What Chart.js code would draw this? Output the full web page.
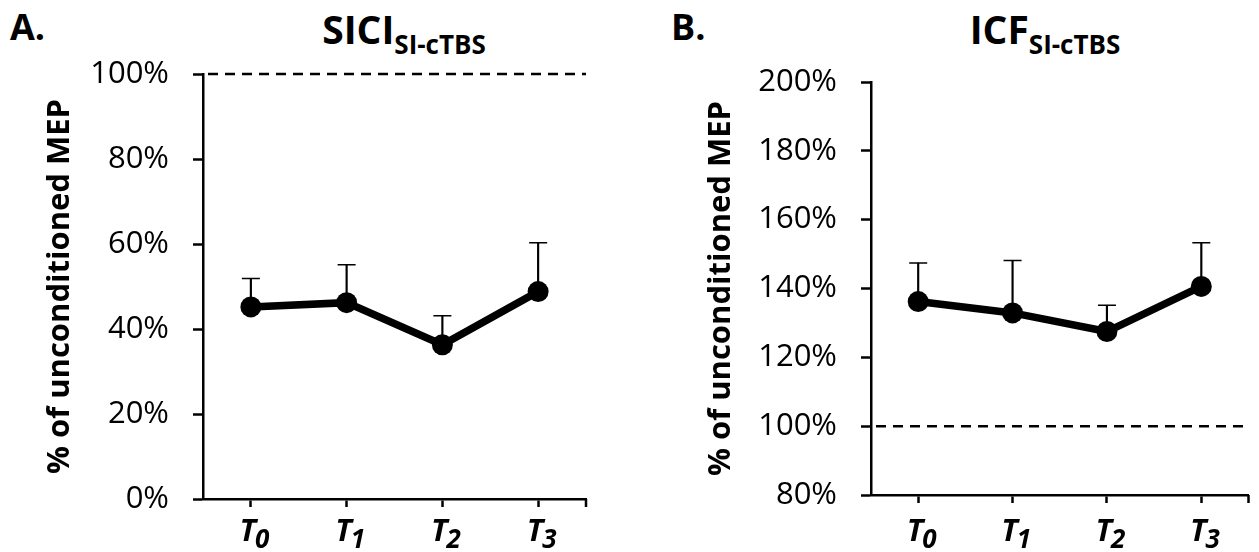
<!DOCTYPE html>
<html>
<head>
<meta charset="utf-8">
<script src="https://cdn.jsdelivr.net/npm/chart.js@4.4.1/dist/chart.umd.min.js"></script>
<style>
  body { margin: 0; background: #fff; width: 1259px; height: 552px; position: relative; overflow: hidden; font-family: "Open Sans", sans-serif; color: #000; }
  canvas { position: absolute; top: 0; }
  #chartA { left: 0; }
  #chartB { left: 629px; }
  .panel { position: absolute; font-weight: bold; font-size: 36px; line-height: 1; }
  .title { position: absolute; font-weight: bold; font-size: 39px; line-height: 1; white-space: nowrap; transform: translateX(-50%); }
  .title sub { font-size: 26px; vertical-align: -10px; line-height: 0; }
</style>
</head>
<body>
<div class="panel" style="left:10px;top:9px">A.</div>
<div class="title" style="left:404px;top:9px">SICI<sub>SI-cTBS</sub></div>
<div class="panel" style="left:671px;top:9px">B.</div>
<div class="title" style="left:1045px;top:9px">ICF<sub>SI-cTBS</sub></div>
<canvas id="chartA" width="629" height="552"></canvas>
<canvas id="chartB" width="630" height="552"></canvas>
<script>
// Données
const timepoints = ['T0', 'T1', 'T2', 'T3'];
const siciMean = [45.2, 46.2, 36.3, 48.8];
const siciErr = [6.7, 8.9, 6.8, 11.5];
const icfMean = [136.2, 132.9, 127.5, 140.6];
const icfErr = [11.2, 15.2, 7.6, 12.7];

const yTitle = '% of unconditioned MEP';

// Ligne de référence pointillée, tick de fin d'axe X et étiquettes T avec indice
const axisDecor = {
    id: 'axisDecor',
    beforeDatasetsDraw(chart, args, opts) {
        const { ctx, chartArea: a, scales: { y } } = chart;
        const yRef = y.getPixelForValue(opts.refValue);
        ctx.save();
        ctx.strokeStyle = '#000';
        ctx.lineWidth = 2.5;
        ctx.setLineDash([10, 7]);
        ctx.beginPath();
        ctx.moveTo(a.left + 5, yRef);
        ctx.lineTo(a.right, yRef);
        ctx.stroke();
        ctx.setLineDash([]);
        ctx.beginPath();
        ctx.moveTo(a.right, a.bottom);
        ctx.lineTo(a.right, a.bottom + 8);
        ctx.stroke();
        ctx.restore();
    },
    afterDraw(chart) {
        const { ctx, scales: { x } } = chart;
        const baseFont = 'italic bold 31px "Open Sans"';
        const subFont = 'italic bold 26px "Open Sans"';
        const baseline = x.bottom - 11;
        ctx.save();
        ctx.fillStyle = '#000';
        ctx.textBaseline = 'alphabetic';
        ctx.textAlign = 'left';
        chart.data.labels.forEach((label, i) => {
            const main = label.charAt(0);
            const sub = label.slice(1);
            ctx.font = baseFont;
            const wMain = ctx.measureText(main).width;
            ctx.font = subFont;
            const wSub = ctx.measureText(sub).width;
            const cx = x.getPixelForTick(i) + 4;
            const start = cx - (wMain + wSub) / 2;
            ctx.font = baseFont;
            ctx.fillText(main, start, baseline);
            ctx.font = subFont;
            ctx.fillText(sub, start + wMain - 1, baseline + 7);
        });
        ctx.restore();
    }
};

function createPanel(canvas, means, errs, cfg) {
    const tops = means.map((m, i) => m + errs[i]);
    return new Chart(canvas.getContext('2d'), {
        type: 'line',
        data: {
            labels: timepoints,
            datasets: [
                {
                    type: 'line',
                    data: means,
                    borderColor: '#000',
                    borderWidth: 7.5,
                    pointRadius: 10.5,
                    pointBackgroundColor: '#000',
                    pointBorderColor: '#000',
                    pointBorderWidth: 0,
                    tension: 0,
                    order: 0
                },
                {
                    type: 'line',
                    data: tops,
                    showLine: false,
                    pointStyle: 'line',
                    pointRadius: 9,
                    pointBorderColor: '#000',
                    pointBorderWidth: 1.5,
                    order: 1
                },
                {
                    type: 'bar',
                    data: means.map((m, i) => [m, tops[i]]),
                    backgroundColor: '#000',
                    borderWidth: 0,
                    barThickness: 1.5,
                    order: 2
                }
            ]
        },
        options: {
            responsive: false,
            animation: false,
            events: [],
            layout: { padding: { top: cfg.top, right: cfg.right, left: 0, bottom: 0 } },
            plugins: {
                legend: { display: false },
                tooltip: { enabled: false },
                axisDecor: { refValue: cfg.ref }
            },
            scales: {
                x: {
                    offset: true,
                    grid: { offset: false, drawOnChartArea: false, drawTicks: true, tickLength: 8, tickWidth: 2.5, tickColor: '#000' },
                    border: { color: '#000', width: 2.5 },
                    ticks: { display: false },
                    afterFit: (scale) => { scale.height = cfg.xHeight; }
                },
                y: {
                    min: cfg.min,
                    max: cfg.max,
                    ticks: {
                        stepSize: 20,
                        color: '#000',
                        padding: 24,
                        font: { family: '"Open Sans"', size: 31 },
                        callback: (v) => v + '%'
                    },
                    grid: { drawOnChartArea: false, drawTicks: true, tickLength: 10, tickWidth: 2.5, tickColor: '#000' },
                    border: { color: '#000', width: 2.5 },
                    title: {
                        display: true,
                        text: yTitle,
                        color: '#000',
                        font: { family: '"Open Sans"', size: 31, weight: 'bold' },
                        padding: { top: cfg.titlePad, bottom: 0 }
                    },
                    afterFit: (scale) => { scale.width = cfg.yWidth; }
                }
            }
        },
        plugins: [axisDecor]
    });
}

createPanel(document.getElementById('chartA'), siciMean, siciErr, {
    min: 0, max: 100, ref: 100, top: 74, right: 43, xHeight: 53, yWidth: 203, titlePad: 42
});
createPanel(document.getElementById('chartB'), icfMean, icfErr, {
    min: 80, max: 200, ref: 100, top: 82, right: 4, xHeight: 57, yWidth: 242, titlePad: 74
});
</script>
</body>
</html>
